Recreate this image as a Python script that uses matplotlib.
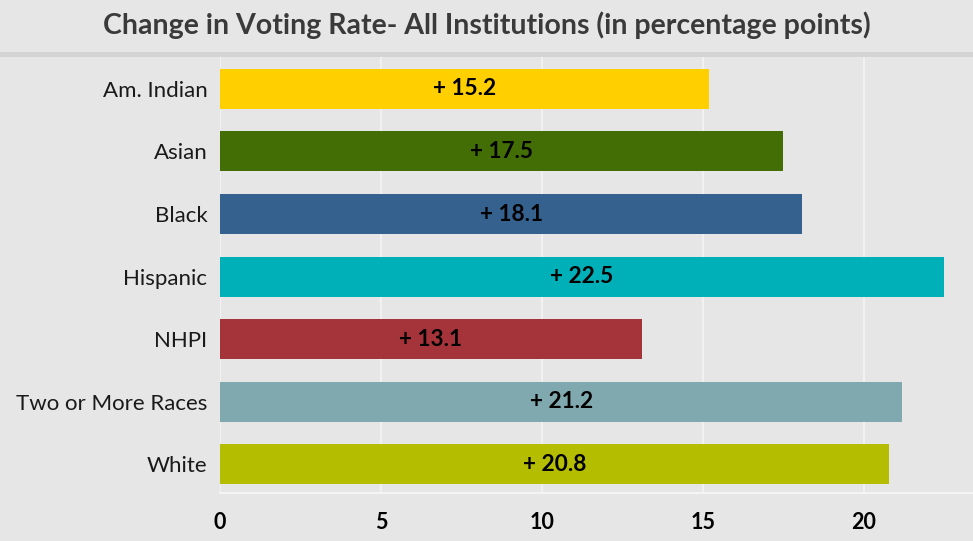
import matplotlib.pyplot as plt
from matplotlib.patches import Rectangle

# 데이터
groups = ['Am. Indian', 'Asian', 'Black', 'Hispanic', 'NHPI', 'Two or More Races', 'White']
changes = [15.2, 17.5, 18.1, 22.5, 13.1, 21.2, 20.8]
colors = ['#FFCF00', '#436D05', '#35618F', '#00B0B8', '#A4343A', '#7FA9AE', '#B5BD00']
xticks = [0, 5, 10, 15, 20]

bg = '#e6e6e6'
plt.rcParams['font.family'] = ['Lato', 'DejaVu Sans']

fig = plt.figure(figsize=(9.73, 5.41), dpi=100, facecolor=bg)
ax = fig.add_axes([0.2261, 0.0887, 0.7739, 0.8059], facecolor=bg)

# 제목 밑 구분 띠
fig.patches.append(Rectangle((0, 0.8946), 1, 0.0092, transform=fig.transFigure,
                             facecolor='#d4d4d4', edgecolor='none'))
fig.text(0.5, 0.953, 'Change in Voting Rate- All Institutions (in percentage points)',
         ha='center', va='center', fontsize=20.5, fontweight='bold', color='#3a3a3a')

y = list(range(len(groups)))
ax.barh(y, changes, height=0.64, color=colors, zorder=3)
for yi, v in zip(y, changes):
    ax.text(v / 2, yi, f'+ {v}', ha='center', va='center', fontsize=16.3,
            fontweight='bold', color='black', zorder=4)

ax.set_xlim(0, 23.4)
ax.set_ylim(6.46, -0.51)
ax.set_yticks(y)
ax.set_yticklabels(groups, fontsize=16, color='#1a1a1a')
ax.set_xticks(xticks)
ax.set_xticklabels([str(t) for t in xticks], fontsize=15.5, fontweight='bold')
ax.tick_params(axis='y', length=0, pad=9)
ax.tick_params(axis='x', length=0, pad=14)
ax.grid(axis='x', color='#f4f4f4', linewidth=1.2, zorder=1)
for s in ['top', 'right', 'left']:
    ax.spines[s].set_visible(False)
ax.spines['bottom'].set_color('#f4f4f4')
ax.spines['bottom'].set_linewidth(1.5)

plt.savefig('out.png', dpi=100, facecolor=bg)
plt.close()
